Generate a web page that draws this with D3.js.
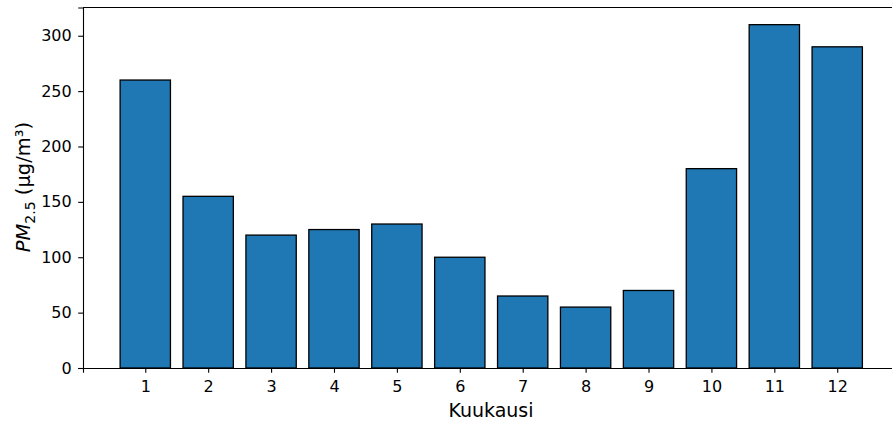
<!DOCTYPE html>
<html>
<head>
<meta charset="utf-8">
<script src="https://cdn.jsdelivr.net/npm/d3@7"></script>
<style>
  body { margin: 0; background: #fff; }
  svg { display: block; font-family: "DejaVu Sans", sans-serif; }
</style>
</head>
<body>
<svg id="chart" width="892" height="421"></svg>
<script>
// Monthly PM2.5 values
const months = [1, 2, 3, 4, 5, 6, 7, 8, 9, 10, 11, 12];
const pm25 = [260, 155, 120, 125, 130, 100, 65, 55, 70, 180, 310, 290];
const yTicks = [0, 50, 100, 150, 200, 250, 300];

const svg = d3.select("#chart");
const plotLeft = 83, plotRight = 899.5, plotTop = 7.5, plotBottom = 368;

const x = d3.scaleLinear().domain([0.01, 12.99]).range([plotLeft, plotRight]);
const y = d3.scaleLinear().domain([0, 325.5]).range([plotBottom, plotTop]);
const barW = x(0.8) - x(0);

svg.append("g")
  .selectAll("rect")
  .data(months)
  .join("rect")
  .attr("x", (d) => x(d - 0.4))
  .attr("y", (d, i) => y(pm25[i]))
  .attr("width", barW)
  .attr("height", (d, i) => y(0) - y(pm25[i]))
  .attr("fill", "#1f77b4")
  .attr("stroke", "#000")
  .attr("stroke-width", 1.3);

// Axes
const xAxis = svg.append("g")
  .attr("transform", `translate(0,${plotBottom})`)
  .call(d3.axisBottom(x).tickValues(months).tickSize(4.8).tickPadding(7.5).tickFormat(d3.format("d")));
const yAxis = svg.append("g")
  .attr("transform", `translate(${plotLeft},0)`)
  .call(d3.axisLeft(y).tickValues(yTicks).tickSize(4.8).tickPadding(6.5));

[xAxis, yAxis].forEach((g) => {
  g.selectAll("path").attr("stroke", "#000").attr("stroke-width", 1.1);
  g.selectAll("line").attr("stroke", "#000").attr("stroke-width", 1.1);
  g.selectAll("text").attr("font-size", 16).attr("fill", "#000")
    .attr("font-family", "DejaVu Sans, sans-serif");
});

// Top spine
svg.append("line")
  .attr("x1", plotLeft).attr("x2", plotRight).attr("y1", plotTop).attr("y2", plotTop)
  .attr("stroke", "#000").attr("stroke-width", 1.1);

// Axis titles
svg.append("text")
  .attr("x", 491)
  .attr("y", 417)
  .attr("text-anchor", "middle")
  .attr("font-size", 19)
  .attr("fill", "#000")
  .text("Kuukausi");

const yl = svg.append("text")
  .attr("transform", `translate(30,187) rotate(-90)`)
  .attr("text-anchor", "middle")
  .attr("font-size", 19.5)
  .attr("fill", "#000");
yl.append("tspan").attr("font-style", "italic").text("PM");
yl.append("tspan").attr("font-size", 14).attr("dy", 4.5).text("2.5");
yl.append("tspan").attr("dy", -4.5).text(" (μg/m³)");
</script>
</body>
</html>
